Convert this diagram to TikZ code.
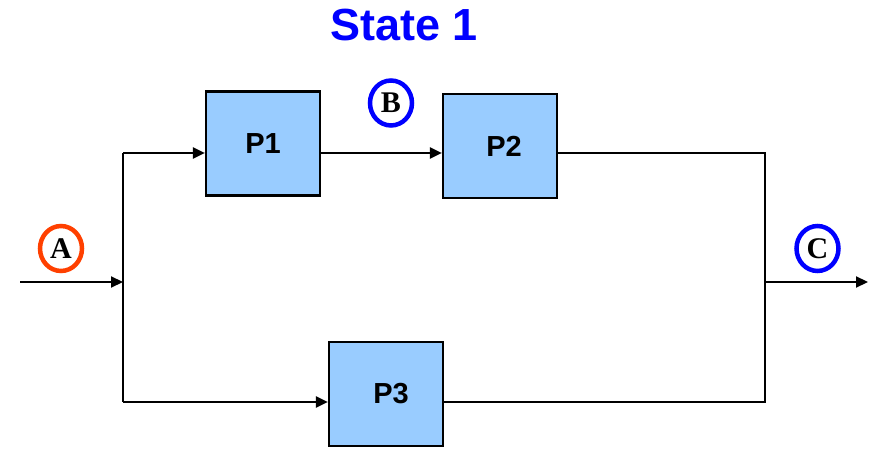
\documentclass[tikz,border=0pt]{standalone}
\usepackage{fontspec}
\setmainfont{Liberation Sans}
\newfontfamily\serifbold{Liberation Serif}
\usetikzlibrary{arrows.meta,shapes.geometric}
\definecolor{boxfill}{RGB}{153,204,255}
\definecolor{tagred}{RGB}{255,64,0}
\definecolor{tagblue}{RGB}{0,0,255}
\tikzset{
  procbox/.style={draw=black, line width=2.2pt, fill=boxfill, minimum width=114pt, minimum height=104pt, inner sep=0pt, font=\fontsize{29}{29}\selectfont\bfseries},
  wire/.style={line width=2.2pt, draw=black},
  flow/.style={wire, -{Triangle[length=12pt,width=11pt]}},
  tag/.style={ellipse, line width=4.5pt, minimum width=42pt, minimum height=45pt, inner sep=0pt, font=\serifbold\fontsize{30}{30}\selectfont\bfseries},
}
\begin{document}
\begin{tikzpicture}[x=1pt,y=-1pt]
\useasboundingbox (0,0) rectangle (871,449);
% title
\node[text=tagblue, font=\fontsize{45}{45}\selectfont\bfseries] (title) at (404,25) {State 1};
% process boxes
\node[procbox] (p1) at (263,143.5) {\raisebox{-2pt}{P1}};
\node[procbox] (p2) at (500,146) {\hspace{8pt}\raisebox{-2pt}{P2}};
\node[procbox] (p3) at (386,394) {\hspace{10pt}\raisebox{-3pt}{P3}};
% junction points
\coordinate (in)  at (20,282);
\coordinate (sj)  at (123,282);
\coordinate (st)  at (123,153);
\coordinate (sb)  at (123,402);
\coordinate (mj)  at (765,282);
\coordinate (mt)  at (765,153);
\coordinate (mb)  at (765,402);
\coordinate (out) at (868,282);
% connectors
\draw[flow] (in) -- (sj);
\draw[wire] (st) -- (sb);
\draw[flow] (st) -- (p1.west |- st);
\draw[flow] (p1.east |- st) -- (p2.west |- st);
\draw[flow] (sb) -- (p3.west |- sb);
\draw[wire] (p2.east |- mt) -- (mt) -- (mb) -- (p3.east |- mb);
\draw[flow] (mj) -- (out);
% state tags
\node[tag, draw=tagred] (ta) at (61,248.5) {A};
\node[tag, draw=tagblue] (tb) at (391,103) {B};
\node[tag, draw=tagblue] (tc) at (817.5,248.5) {C};
\end{tikzpicture}
\end{document}
